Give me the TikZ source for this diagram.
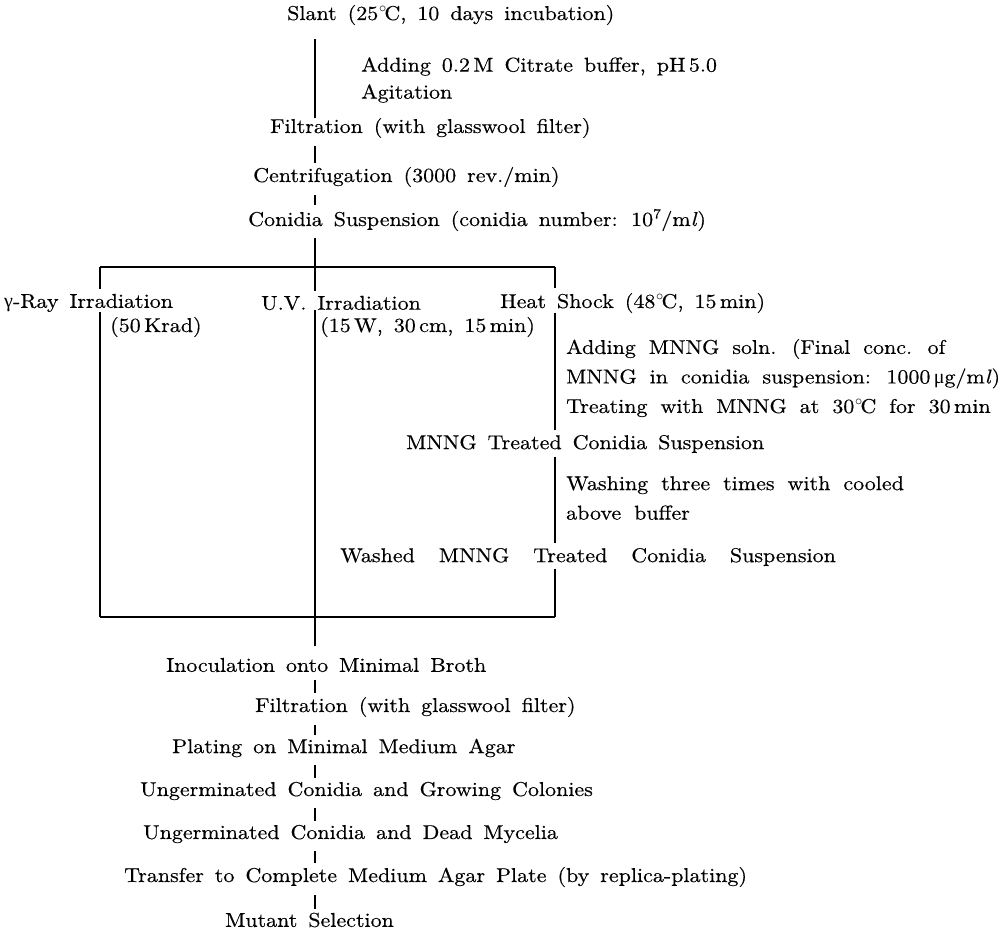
\documentclass[tikz,border=0pt]{standalone}
\usepackage{fontspec}
\setmainfont{lmroman10-regular.otf}[FakeStretch=1.1,FakeBold=0.4,ItalicFont=lmroman10-italic.otf]
\newfontfamily\grk{Liberation Serif}
\newcommand\degc{\kern.04em$^{\circ}$\kern-.12em C}
\newcommand\myml{m\textit{l}}
\newcommand\fonta{\fontsize{20}{28}\selectfont\spaceskip=0.55em plus 0.1em\relax}
\newcommand\fontb{\fontsize{20}{27}\selectfont\spaceskip=0.55em plus 0.1em\relax}
\newcommand\fontc{\fontsize{20}{29.5}\selectfont\spaceskip=0.65em plus 0.1em\relax}
\newcommand\fontd{\fontsize{20}{28}\selectfont\spaceskip=1.2em plus 0.1em\relax}
\begin{document}
\begin{tikzpicture}[x=1pt,y=-1pt,
  txt/.style={anchor=west,inner sep=0pt,align=left,font=\fonta},
  ln/.style={line width=1.4pt},
  tick/.style={line width=1.4pt,shorten <=8pt,shorten >=4pt}]
\useasboundingbox[fill=white] (0,0) rectangle (1004,936);
\coordinate (mx) at (315,0);
\coordinate (tl) at (100,267);
\coordinate (tr) at (555,267);
\coordinate (bl) at (100,617);
\coordinate (br) at (555,617);
% texts
\node[txt] (slant) at (287,15) {Slant (25\degc, 10 days incubation)};
\node[txt,font=\fontb] (add) at (361,80) {Adding 0.2\,M Citrate buffer, pH\,5.0\\Agitation};
\node[txt] (filt1) at (270,128) {Filtration (with glasswool filter)};
\node[txt] (cent) at (253,177) {Centrifugation (3000 rev./min)};
\node[txt] (conid) at (248,220) {Conidia Suspension (conidia number: 10\textsuperscript{7}/\myml)};
\node[txt] (gamma) at (4,303) {{\grk γ}-Ray Irradiation};
\node[txt] (krad) at (110,327) {(50\,Krad)};
\node[txt] (uv) at (261,303) {U.V. Irradiation};
\node[txt] (uvp) at (320,327) {(15\,W, 30\,cm, 15\,min)};
\node[txt] (heat) at (500,303) {Heat Shock (48\degc, 15\,min)};
\node[txt,font=\fontc] (mnng) at (566,378) {Adding MNNG soln. (Final conc. of\\MNNG in conidia suspension: 1000\,{\grk μ}g/\myml)\\Treating with MNNG at 30\degc{} for 30\,min};
\node[txt] (treated) at (406,444) {MNNG Treated Conidia Suspension};
\node[txt,font=\fontc] (wash) at (566,498) {Washing three times with cooled\\above buffer};
\node[txt,font=\fontd] (washed) at (340,557) {Washed MNNG Treated Conidia Suspension};
\node[txt] (inoc) at (166,665) {Inoculation onto Minimal Broth};
\node[txt] (filt2) at (255,707) {Filtration (with glasswool filter)};
\node[txt] (plat) at (172,748) {Plating on Minimal Medium Agar};
\node[txt] (ung1) at (140,791) {Ungerminated Conidia and Growing Colonies};
\node[txt] (ung2) at (143,834) {Ungerminated Conidia and Dead Mycelia};
\node[txt] (trans) at (124,877) {Transfer to Complete Medium Agar Plate (by replica-plating)};
\node[txt] (mut) at (225,920) {Mutant Selection};
% main connectors
\draw[ln,shorten <=14pt] (slant.south -| mx) -- (filt1.north -| mx);
\draw[tick] (filt1.south -| mx) -- (cent.north -| mx);
\draw[tick] (cent.south -| mx) -- (conid.north -| mx);
\draw[ln,shorten <=7pt,shorten >=5pt] (conid.south -| mx) -- (uv.north -| mx);
\draw[ln,shorten >=12pt] (uv.south -| mx) -- (inoc.north -| mx);
% box
\draw[ln] (tl) -- (tr);
\draw[ln] (bl) -- (br);
\draw[ln,shorten >=5pt] (tl) -- (gamma.north -| tl);
\draw[ln] (gamma.south -| tl) -- (bl);
\draw[ln,shorten >=5pt] (tr) -- (heat.north -| tr);
\draw[ln,shorten >=5pt] (heat.south -| tr) -- (treated.north -| tr);
\draw[ln,shorten <=4pt,shorten >=5pt] (treated.south -| tr) -- (washed.north -| tr);
\draw[ln,shorten <=3pt] (washed.south -| tr) -- (br);
% lower ticks
\draw[tick] (inoc.south -| mx) -- (filt2.north -| mx);
\draw[tick] (filt2.south -| mx) -- (plat.north -| mx);
\draw[tick] (plat.south -| mx) -- (ung1.north -| mx);
\draw[tick] (ung1.south -| mx) -- (ung2.north -| mx);
\draw[tick] (ung2.south -| mx) -- (trans.north -| mx);
\draw[tick] (trans.south -| mx) -- (mut.north -| mx);
\end{tikzpicture}
\end{document}
